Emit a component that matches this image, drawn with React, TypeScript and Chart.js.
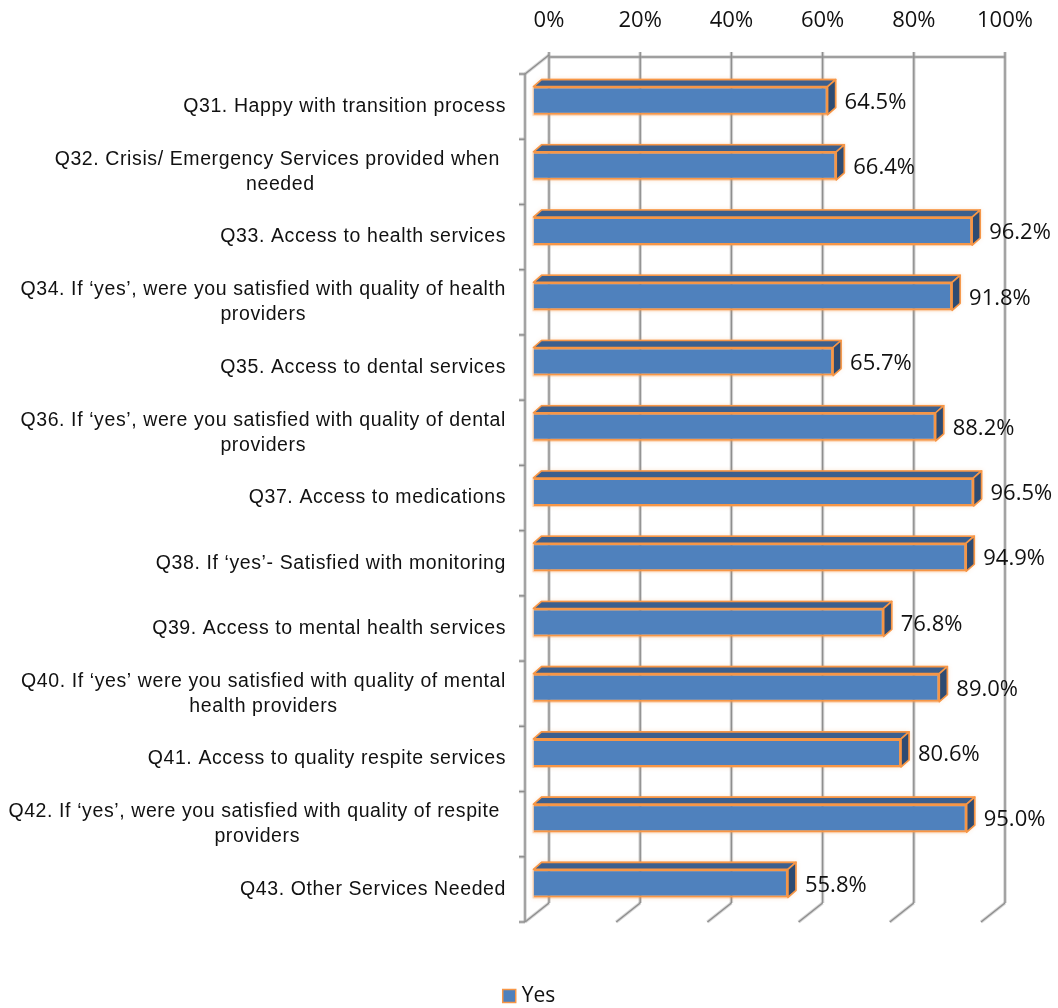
import { useEffect, useRef } from "react";
import { Chart, registerables } from "chart.js";

Chart.register(...registerables);

// Survey items (multi-line where the label wraps)
const categories: string[][] = [
  ["Q31. Happy with transition process"],
  ["Q32. Crisis/ Emergency Services provided when ", "needed"],
  ["Q33. Access to health services"],
  ["Q34. If \u2018yes\u2019, were you satisfied with quality of health", "providers"],
  ["Q35. Access to dental services"],
  ["Q36. If \u2018yes\u2019, were you satisfied with quality of dental", "providers"],
  ["Q37. Access to medications"],
  ["Q38. If \u2018yes\u2019- Satisfied with monitoring"],
  ["Q39. Access to mental health services"],
  ["Q40. If \u2018yes\u2019 were you satisfied with quality of mental", "health providers"],
  ["Q41. Access to quality respite services"],
  ["Q42. If \u2018yes\u2019, were you satisfied with quality of respite ", "providers"],
  ["Q43. Other Services Needed"],
];

// Share of "Yes" answers, in percent
const yesValues: number[] = [64.5, 66.4, 96.2, 91.8, 65.7, 88.2, 96.5, 94.9, 76.8, 89.0, 80.6, 95.0, 55.8];

const percentTicks: number[] = [0, 20, 40, 60, 80, 100];
const seriesName = "Yes";

const FACE = "#4F81BD";
const TOP_FACE = "#3C5F8D";
const SIDE_FACE = "#2E4B72";
const EDGE = "#F79646";
const TEXT = "#111111";

// Pseudo-3D offsets relative to the plane of the bars' front faces
const BACK = { dx: 15.5, dy: -13 };
const FRONT = { dx: -8.5, dy: 6 };
const BAR_DEPTH = { dx: 8, dy: -7 };

const W = 1058;
const H = 1008;

const strokeGrid = (ctx: CanvasRenderingContext2D, pts: number[][]) => {
  ctx.beginPath();
  ctx.moveTo(pts[0][0], pts[0][1]);
  for (let i = 1; i < pts.length; i++) ctx.lineTo(pts[i][0], pts[i][1]);
  ctx.strokeStyle = "rgba(165,165,165,0.45)";
  ctx.lineWidth = 3.5;
  ctx.stroke();
  ctx.strokeStyle = "#8e8e8e";
  ctx.lineWidth = 1.4;
  ctx.stroke();
};

const wallsPlugin = {
  id: "walls3d",
  beforeDatasetsDraw(chart: any) {
    const { ctx, chartArea: a, scales } = chart;
    const x = scales.x;
    const y = scales.y;
    ctx.save();
    ctx.lineCap = "butt";
    const backTop = a.top + BACK.dy + 2;
    const backBottom = a.bottom + BACK.dy;
    const x0b = x.getPixelForValue(0) + BACK.dx;
    const x100b = x.getPixelForValue(100) + BACK.dx;

    // top edge of back wall
    strokeGrid(ctx, [[x0b, backTop], [x100b, backTop]]);

    // back-wall gridlines with floor feet
    for (const v of percentTicks) {
      const xb = x.getPixelForValue(v) + BACK.dx;
      strokeGrid(ctx, [[xb, backTop - 5], [xb, backBottom]]);
      strokeGrid(ctx, [
        [xb, backBottom],
        [xb + FRONT.dx - BACK.dx, a.bottom + FRONT.dy],
      ]);
    }

    // left wall
    const xf = x.getPixelForValue(0) + FRONT.dx;
    const frontTop = a.top + FRONT.dy;
    const frontBottom = a.bottom + FRONT.dy;
    strokeGrid(ctx, [[xf, frontTop], [xf, frontBottom]]);
    strokeGrid(ctx, [[xf, frontTop], [x0b, a.top + BACK.dy]]);

    // category separators on the left wall
    const n = categories.length;
    for (let i = 0; i <= n; i++) {
      const yy =
        i === 0
          ? frontTop
          : i === n
          ? frontBottom
          : (y.getPixelForValue(i - 1) + y.getPixelForValue(i)) / 2 + FRONT.dy;
      strokeGrid(ctx, [[xf - 6, yy], [xf, yy]]);
    }

    // soft orange halo behind each bar
    const meta = chart.getDatasetMeta(0);
    ctx.shadowColor = "rgba(247,150,70,0.55)";
    ctx.shadowBlur = 4;
    ctx.fillStyle = "rgba(247,150,70,0.35)";
    meta.data.forEach((el: any) => {
      const { x: right, y: cy, base, height } = el.getProps(["x", "y", "base", "height"], true);
      const top = cy - height / 2;
      const bottom = cy + height / 2;
      ctx.beginPath();
      ctx.moveTo(base - 1, bottom + 1);
      ctx.lineTo(base - 1, top);
      ctx.lineTo(base + BAR_DEPTH.dx, top + BAR_DEPTH.dy - 1);
      ctx.lineTo(right + BAR_DEPTH.dx + 1, top + BAR_DEPTH.dy - 1);
      ctx.lineTo(right + BAR_DEPTH.dx + 1, bottom + BAR_DEPTH.dy);
      ctx.lineTo(right, bottom + 1);
      ctx.closePath();
      ctx.fill();
    });
    ctx.restore();
  },
  afterDatasetsDraw(chart: any) {
    const { ctx } = chart;
    const meta = chart.getDatasetMeta(0);
    ctx.save();
    meta.data.forEach((el: any, i: number) => {
      const { x: right, y: cy, base, height } = el.getProps(["x", "y", "base", "height"], true);
      const top = cy - height / 2;
      const bottom = cy + height / 2;
      const dx = BAR_DEPTH.dx;
      const dy = BAR_DEPTH.dy;
      ctx.lineJoin = "round";
      ctx.lineWidth = 1.6;
      ctx.strokeStyle = EDGE;

      // top face
      ctx.beginPath();
      ctx.moveTo(base, top);
      ctx.lineTo(base + dx, top + dy);
      ctx.lineTo(right + dx, top + dy);
      ctx.lineTo(right, top);
      ctx.closePath();
      ctx.fillStyle = TOP_FACE;
      ctx.fill();
      ctx.stroke();

      // side face
      ctx.beginPath();
      ctx.moveTo(right, top);
      ctx.lineTo(right + dx, top + dy);
      ctx.lineTo(right + dx, bottom + dy);
      ctx.lineTo(right, bottom);
      ctx.closePath();
      ctx.fillStyle = SIDE_FACE;
      ctx.fill();
      ctx.stroke();

      // value label
      ctx.font = '22px "Open Sans"';
      ctx.fillStyle = TEXT;
      ctx.textAlign = "left";
      ctx.textBaseline = "middle";
      ctx.fillText(yesValues[i].toFixed(1) + "%", right + 17, cy + 2);
    });
    ctx.restore();
  },
  afterDraw(chart: any) {
    const { ctx, chartArea: a, scales } = chart;
    const y = scales.y;
    ctx.save();

    // category labels
    ctx.font = '19.5px "Liberation Sans", Arial, sans-serif';
    (ctx as any).letterSpacing = "0.6px";
    ctx.fillStyle = TEXT;
    ctx.textAlign = "center";
    ctx.textBaseline = "middle";
    const blockRight = a.left - 27.5;
    const lineH = 25;
    categories.forEach((lines, i) => {
      const blockW = Math.max(...lines.map((l) => ctx.measureText(l).width));
      const cy = y.getPixelForValue(i) + FRONT.dy;
      const y0 = cy - ((lines.length - 1) * lineH) / 2;
      lines.forEach((l, k) => {
        ctx.fillText(l, blockRight - blockW / 2, y0 + k * lineH);
      });
    });
    (ctx as any).letterSpacing = "0px";

    // legend
    ctx.font = '21px "Open Sans"';
    const tw = ctx.measureText(seriesName).width;
    const box = 13;
    const gap = 6;
    const total = box + gap + tw;
    const lx = chart.width / 2 - total / 2;
    const ly = 996;
    ctx.fillStyle = FACE;
    ctx.fillRect(lx, ly - box / 2, box, box);
    ctx.strokeStyle = EDGE;
    ctx.lineWidth = 1.5;
    ctx.strokeRect(lx, ly - box / 2, box, box);
    ctx.fillStyle = TEXT;
    ctx.textAlign = "left";
    ctx.textBaseline = "middle";
    ctx.fillText(seriesName, lx + box + gap, ly);
    ctx.restore();
  },
};

export default function App() {
  const canvasRef = useRef<HTMLCanvasElement>(null);

  useEffect(() => {
    const canvas = canvasRef.current;
    if (!canvas) return;
    const chart = new Chart(canvas, {
      type: "bar",
      data: {
        labels: categories.map((c) => c.join(" ")),
        datasets: [
          {
            label: seriesName,
            data: yesValues,
            backgroundColor: FACE,
            borderColor: EDGE,
            borderWidth: 2,
            barPercentage: 0.43,
            categoryPercentage: 1,
          },
        ],
      },
      options: {
        indexAxis: "y",
        responsive: false,
        animation: false,
        events: [],
        layout: { padding: { left: 533.5, right: 68.5, top: 8, bottom: 92 } },
        plugins: {
          legend: { display: false },
          tooltip: { enabled: false },
        },
        scales: {
          x: {
            position: "top",
            min: 0,
            max: 100,
            afterBuildTicks: (scale: any) => {
              scale.ticks = percentTicks.map((v) => ({ value: v }));
            },
            afterFit: (scale: any) => {
              scale.height = 60;
            },
            ticks: {
              callback: (v: any) => v + "%",
              font: { family: "Open Sans", size: 22 },
              color: TEXT,
              padding: 34,
              labelOffset: 15.5,
              maxRotation: 0,
              autoSkip: false,
            },
            grid: { display: false, drawTicks: false },
            border: { display: false },
          },
          y: {
            display: false,
            grid: { display: false },
          },
        },
      },
      plugins: [wallsPlugin],
    } as any);
    return () => chart.destroy();
  }, []);

  return (
    <div style={{ position: "absolute", left: 0, top: 0, width: W, height: H, background: "#fff" }}>
      <canvas ref={canvasRef} width={W} height={H} style={{ display: "block", width: W, height: H }} />
    </div>
  );
}
